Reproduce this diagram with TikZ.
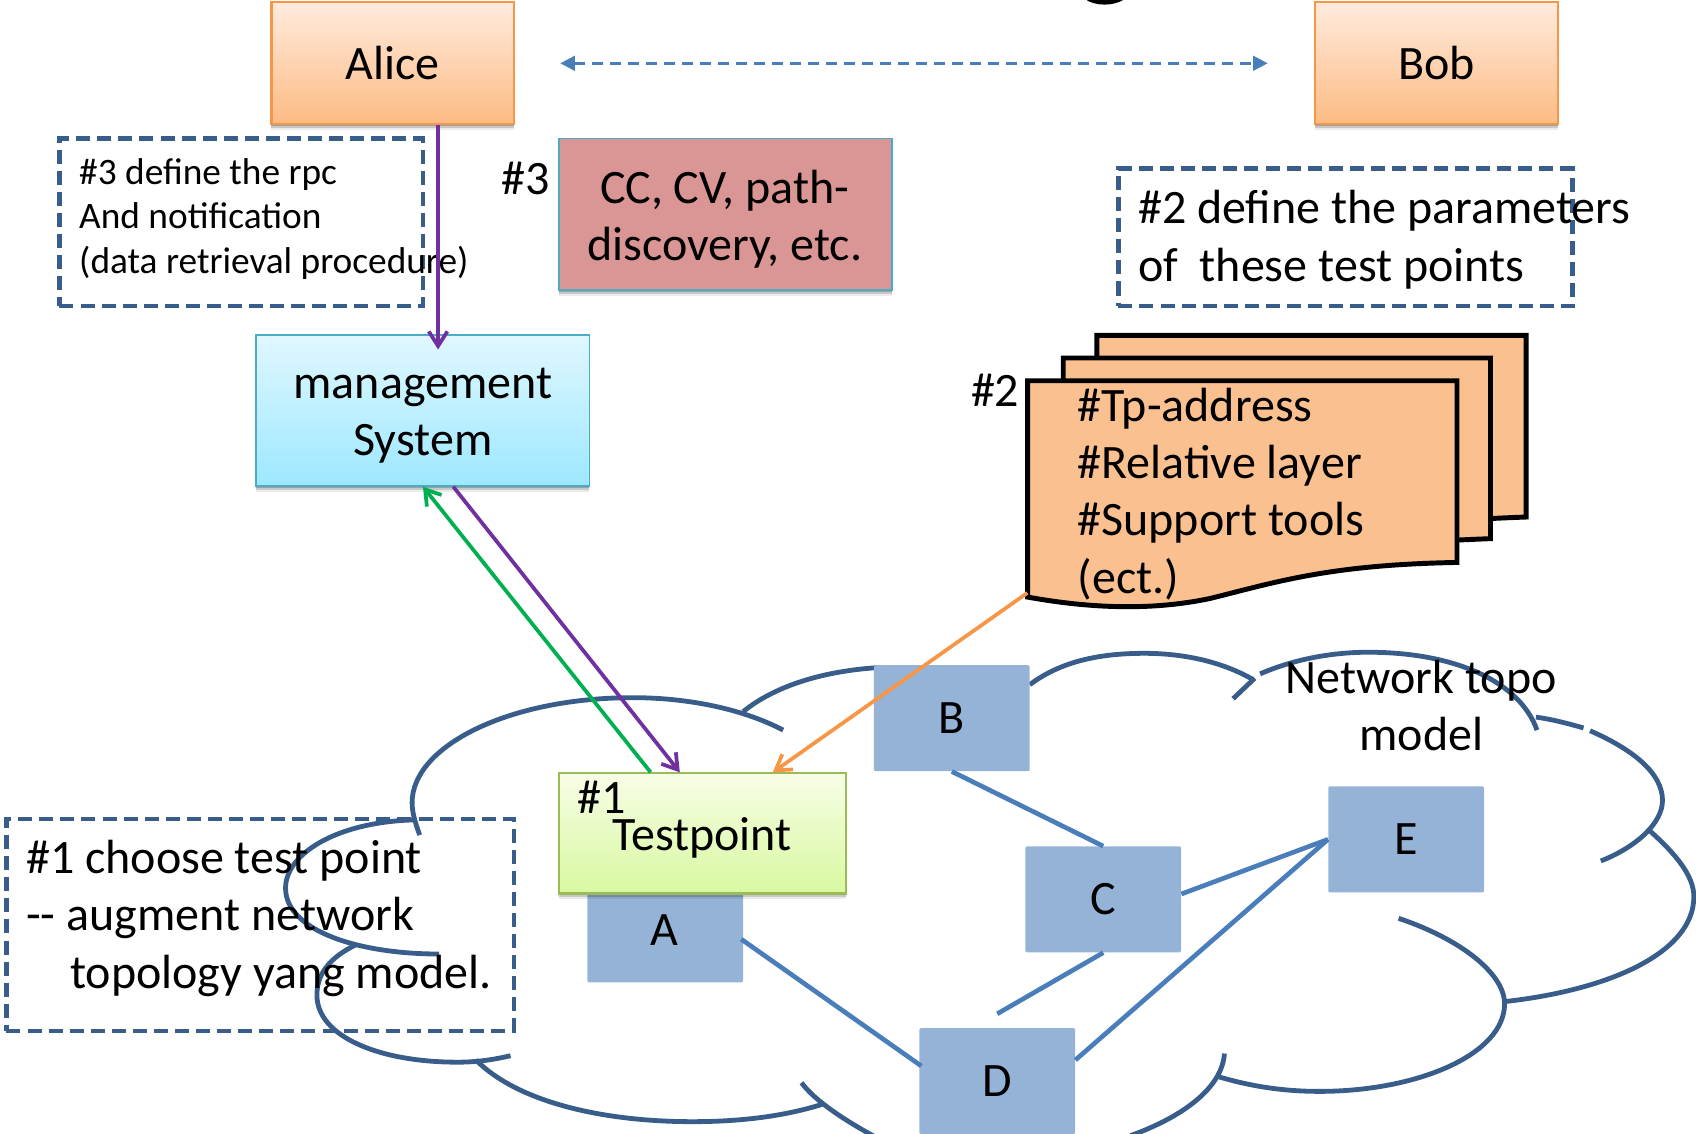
\documentclass[tikz,border=0pt]{standalone}
\usepackage{fontspec}
\setmainfont{Carlito}
\usetikzlibrary{shadows,calc,arrows.meta}
\definecolor{cloudc}{HTML}{385D8A}
\definecolor{linkc}{HTML}{4A7EBB}
\definecolor{netc}{HTML}{95B3D7}
\definecolor{tealc}{HTML}{4BACC6}
\definecolor{orgc}{HTML}{F79646}
\definecolor{docc}{HTML}{FAC090}
\definecolor{pinkc}{HTML}{D99694}
\definecolor{grnc}{HTML}{9BBB59}
\definecolor{purpc}{HTML}{7030A0}
\definecolor{greenc}{HTML}{00B050}
\definecolor{ptop}{HTML}{FFEBDD}
\definecolor{pbot}{HTML}{FDBB84}
\definecolor{stop}{HTML}{E0F7FF}
\definecolor{sbot}{HTML}{9DE8FF}
\definecolor{gtop}{HTML}{F7FDE6}
\definecolor{gbot}{HTML}{D8F9A0}
\tikzset{
  wh/.style 2 args={minimum width=#1*0.8112pt,minimum height=#2*0.8112pt,inner sep=0pt},
  big/.style={font=\fontsize{36}{43}\selectfont},
  small/.style={font=\fontsize{28}{33.7}\selectfont},
  shad/.style={general shadow={shadow yshift=-4.5pt,opacity=.08,fill=black},
               general shadow={shadow yshift=-3pt,opacity=.15,fill=black},
               general shadow={shadow yshift=-1.5pt,opacity=.2,fill=black}},
  peachbox/.style={shad,draw=orgc,line width=1.6pt,top color=ptop,bottom color=pbot,big},
  skybox/.style={shad,draw=tealc,line width=1.4pt,top color=stop,bottom color=sbot},
  pinkbox/.style={shad,draw=tealc,line width=1.4pt,fill=pinkc},
  testbox/.style={shad,draw=grnc,line width=1.6pt,top color=gtop,bottom color=gbot},
  netbox/.style={fill=netc,rounded corners=1pt,big},
  dashbox/.style={draw=cloudc,line width=3.4pt,dash pattern=on 10.5pt off 5.3pt},
  cloudl/.style={draw=cloudc,line width=3.6pt},
  doc/.style={draw=black,fill=docc,line width=3.7pt,line join=miter},
  link/.style={draw=linkc,line width=3.5pt},
  txt/.style={inner sep=0pt,align=left},
  ctxt/.style={inner sep=0pt,align=center,big},
  conn/.style={line width=2.8pt,-{Straight Barb[length=11pt,width=14pt,line width=2.8pt]}}
}
\begin{document}
\begin{tikzpicture}[x=0.8112pt,y=-0.8112pt]
\useasboundingbox (0,0) rectangle (1568,1048.4);
\clip (0,0) rectangle (1568,1048.4);
% title remnant
\fill[black] (1003,-1) .. controls (1012,6) and (1030,6) .. (1040,-1) -- cycle;
% cloud
\draw[cloudl] (388,772) .. controls (383,758) and (381,750) .. (381,742) .. controls (381,690) and (470,645) .. (585,645) .. controls (640,645) and (690,657) .. (724,675);
\draw[cloudl] (383,758) .. controls (310,760) and (264,790) .. (264,821) .. controls (264,860) and (330,882) .. (406,882);
\draw[cloudl] (330,873) .. controls (305,885) and (293,900) .. (293,920) .. controls (293,958) and (350,982) .. (423,982) .. controls (440,982) and (455,980) .. (472,976);
\draw[cloudl] (440,980) .. controls (480,1020) and (560,1037) .. (640,1037) .. controls (685,1037) and (725,1032) .. (760,1021);
\draw[cloudl] (687,658) .. controls (715,635) and (760,620) .. (815,617);
\draw[cloudl] (952,633) .. controls (980,612) and (1015,604) .. (1058,604) .. controls (1095,604) and (1130,612) .. (1158,628);
\draw[cloudl] (1140,646) -- (1160,627);
\draw[cloudl] (1165,623) .. controls (1195,610) and (1230,603) .. (1265,603) .. controls (1345,603) and (1405,630) .. (1421,675);
\draw[cloudl] (1420,663) .. controls (1435,665) and (1450,669) .. (1464,673);
\draw[cloudl] (1470,675.6) .. controls (1510,693) and (1537,715) .. (1537,740) .. controls (1537,760) and (1515,782) .. (1480,796);
\draw[cloudl] (1524,767) .. controls (1550,790) and (1566,810) .. (1566,829) .. controls (1566,880) and (1490,915) .. (1391,926);
\draw[cloudl] (1293,849) .. controls (1350,868) and (1391,900) .. (1391,928) .. controls (1391,975) and (1310,1009) .. (1220,1009) .. controls (1185,1009) and (1155,1004) .. (1125,995);
\draw[cloudl] (1132,974) .. controls (1130,1005) and (1095,1032) .. (1045,1050);
\draw[cloudl] (741,1001) .. controls (755,1020) and (790,1042) .. (830,1062);
% network nodes
\node[netbox,wh={144}{84},anchor=north] (A) at (615,824) {};
\node[big] (Al) at (614,860) {A};
\node[netbox,wh={144}{98}] (B) at (880,664) {B};
\node[netbox,wh={144}{98}] (C) at (1020,831.5) {C};
\node[netbox,wh={144}{98}] (D) at (922,999.5) {D};
\node[netbox,wh={144}{98}] (E) at (1300,776) {E};
% links
\draw[link] (B.south) -- (C.north);
\draw[link] ($(C.east)+(0,-5)$) -- (E.west);
\draw[link] (C.south) -- ($(D.north)+(0,-13)$);
\draw[link] ($(A.east)+(-2,2)$) -- ($(D.west)+(2,-14)$);
\draw[link] ($(D.east)+(0,-19.5)$) -- (E.west);
% top row
\node[peachbox,wh={224}{113}] (alice) at (363,58.5) {Alice};
\node[peachbox,wh={224}{113}] (bob) at (1328,58.5) {Bob};
\draw[linkc,line width=2pt,dash pattern=on 8pt off 5.5pt,{Triangle[length=11pt,width=11pt]}-{Triangle[length=11pt,width=11pt]}]
  ($(alice.east)+(42,0)$) -- ($(bob.west)+(-43,0)$);
% define boxes
\node[dashbox,wh={336}{155}] (d3) at (223,205.5) {};
\node[txt,small,anchor=west] (t3) at (73,202.5) {\#3 define the rpc\\And notification\\(data retrieval procedure)};
\node[big] (h3) at (486,165) {\#3};
\node[pinkbox,wh={308}{140}] (cc) at (671,198) {};
\node[ctxt] (cct) at (670,202.5) {CC, CV, path-\\discovery, etc.};
\node[skybox,wh={308}{139}] (mgmt) at (391,379.5) {};
\node[ctxt] (mgt) at (391,384.5) {management\\System};
\node[dashbox,wh={420}{127}] (d2) at (1244,219.5) {};
\node[txt,big,anchor=west] (t2) at (1052,221.5) {\#2 define the parameters\\of\ \ these test points};
% documents
\draw[doc] (1014,310) -- (1411,310) -- (1411,478) .. controls (1300,482) and (1250,490) .. (1200,510) -- (1014,510) -- cycle;
\draw[doc] (983,331) -- (1378,331) -- (1378,498) .. controls (1270,502) and (1220,510) .. (1170,530) -- (983,530) -- cycle;
\node[inner sep=0pt,minimum size=0pt] (docnode) at (950,548) {};
\draw[doc] (950,352) -- (1347,352) -- (1347,520) .. controls (1230,522) and (1180,538) .. (1120,553) .. controls (1060,566) and (1000,561) .. (950,552) -- cycle;
\node[big] (h2) at (920,361) {\#2};
\node[txt,big,anchor=west] (t4) at (996,456.5) {\#Tp-address\\\#Relative layer\\\#Support tools\\(ect.)};
% test point
\node[testbox,wh={265}{111}] (tp) at (649.5,770.5) {};
\node[big] (h1) at (556,737) {\#1};
\node[big] (tpl) at (649,775) {Testpoint};
% connectors
\draw[purpc,conn] ($(alice.south)+(42,0)$) -- ($(mgmt.north)+(14,14)$);
\draw[purpc,conn] ($(mgmt.south)+(28,0)$) -- ($(tp.north)+(-21,0)$);
\draw[greenc,conn] ($(tp.north)+(-48,0)$) -- (mgmt.south);
\draw[orgc,conn] (docnode) -- ($(tp.north)+(65,0)$);
% dashed box 1
\node[dashbox,wh={469}{196}] (d1) at (240.5,855) {};
\node[txt,big,anchor=west] (t1) at (24,849) {\#1 choose test point\\-{}- augment network\\\hspace*{33pt}topology yang model.};
% cloud label
\node[big,align=center] (nt) at (1314,652.5) {Network topo\\model};
\end{tikzpicture}
\end{document}
